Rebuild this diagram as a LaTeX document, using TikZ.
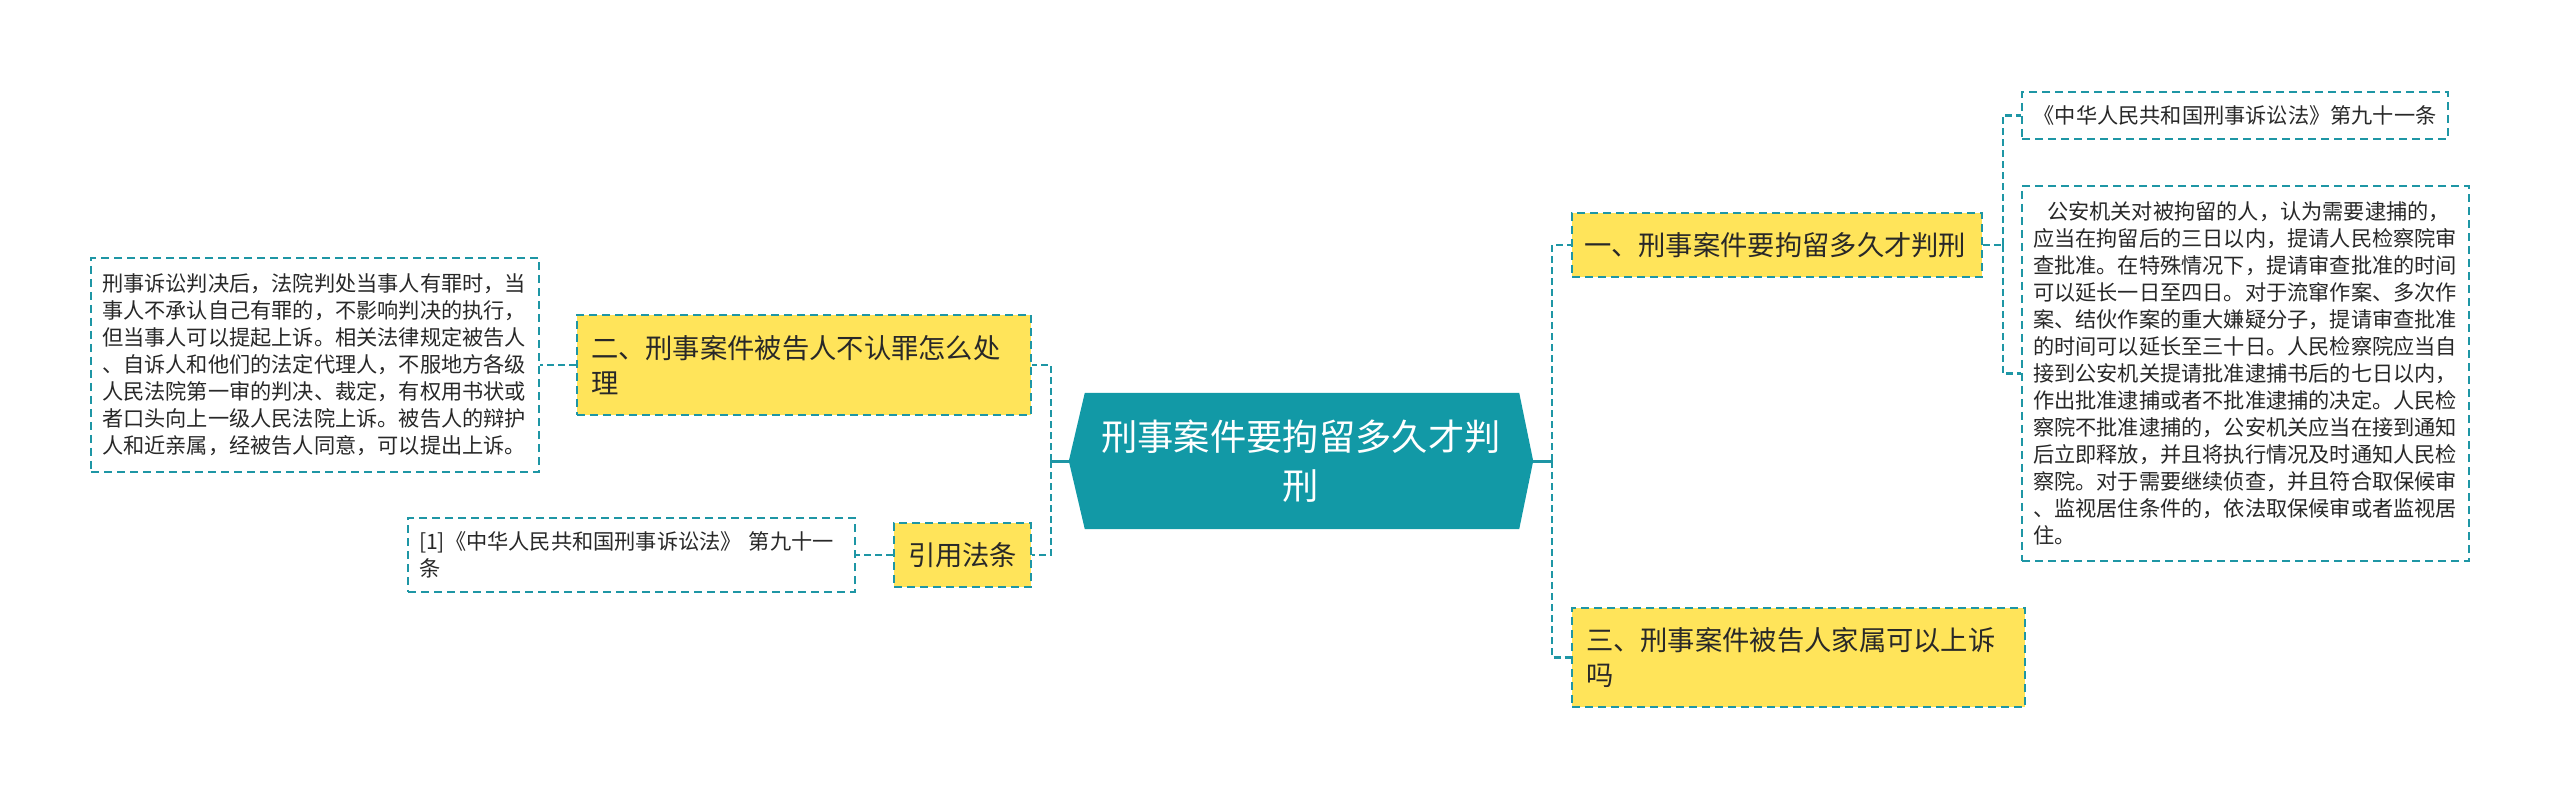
\documentclass[tikz,border=0pt]{standalone}
\usepackage{fontspec}
\setmainfont{Noto Sans CJK SC}
\usetikzlibrary{backgrounds}
\definecolor{hexfill}{RGB}{18,153,166}
\definecolor{linec}{RGB}{30,150,165}
\definecolor{yel}{RGB}{255,228,90}
\definecolor{txt}{RGB}{40,40,40}
\begin{document}
\begin{tikzpicture}[x=1pt,y=-1pt,
  conn/.style={draw=linec,line width=2.2pt,dash pattern=on 7pt off 4pt},
  stub/.style={draw=linec,line width=3pt},
  wbox/.style={draw=linec,line width=1.8pt,dash pattern=on 8pt off 5pt,fill=white,text=txt,
    font=\fontsize{21.2}{27}\selectfont,align=left,inner ysep=0pt,inner xsep=11pt},
  ybox/.style={draw=linec,line width=1.8pt,dash pattern=on 8pt off 5pt,fill=yel,text=txt,
    font=\fontsize{27.3}{35}\selectfont,align=left,inner ysep=0pt,inner xsep=14pt},
]
\useasboundingbox (0,0) rectangle (2560,799);

% root
\node[text=white,font=\fontsize{36.3}{49}\selectfont,align=center,
  minimum width=464pt,minimum height=136pt,inner sep=0pt] (root) at (1301,461)
  {刑事案件要拘留多久才判\\刑};

% left side
\node[ybox,text width=426pt,minimum height=100pt] (er) at (804,365)
  {二、刑事案件被告人不认罪怎么处\\理};
\node[wbox,text width=426pt,minimum height=214pt] (left) at (315,365)
  {刑事诉讼判决后，法院判处当事人有罪时，当\\
   事人不承认自己有罪的，不影响判决的执行，\\
   但当事人可以提起上诉。相关法律规定被告人\\
   、自诉人和他们的法定代理人，不服地方各级\\
   人民法院第一审的判决、裁定，有权用书状或\\
   者口头向上一级人民法院上诉。被告人的辩护\\
   人和近亲属，经被告人同意，可以提出上诉。};
\node[ybox,align=center,text width=109pt,minimum height=64pt] (cite) at (962.5,555) {引用法条};
\node[wbox,text width=425pt,minimum height=74pt] (ref1) at (631.5,555)
  {[1]《中华人民共和国刑事诉讼法》 第九十一\\条};

% right side
\node[ybox,inner xsep=12pt,text width=386pt,minimum height=64pt] (yi) at (1777,245)
  {一、刑事案件要拘留多久才判刑};
\node[ybox,text width=425pt,minimum height=99pt] (san) at (1798.5,657.5)
  {三、刑事案件被告人家属可以上诉\\吗};
\node[wbox,align=center,text width=404pt,minimum height=47pt] (law) at (2235,115.5)
  {《中华人民共和国刑事诉讼法》第九十一条};
\node[wbox,text width=425pt,minimum height=375pt] (big) at (2245.5,373.5)
  {\hspace*{14pt}公安机关对被拘留的人，认为需要逮捕的，\\
   应当在拘留后的三日以内，提请人民检察院审\\
   查批准。在特殊情况下，提请审查批准的时间\\
   可以延长一日至四日。对于流窜作案、多次作\\
   案、结伙作案的重大嫌疑分子，提请审查批准\\
   的时间可以延长至三十日。人民检察院应当自\\
   接到公安机关提请批准逮捕书后的七日以内，\\
   作出批准逮捕或者不批准逮捕的决定。人民检\\
   察院不批准逮捕的，公安机关应当在接到通知\\
   后立即释放，并且将执行情况及时通知人民检\\
   察院。对于需要继续侦查，并且符合取保候审\\
   、监视居住条件的，依法取保候审或者监视居\\
   住。};

\begin{scope}[on background layer]
  \fill[white] (0,0) rectangle (2560,799);
  \fill[hexfill] (root.west) -- ([xshift=16pt]root.north west) -- ([xshift=-14pt]root.north east)
    -- (root.east) -- ([xshift=-14pt]root.south east) -- ([xshift=16pt]root.south west) -- cycle;
\end{scope}

% connectors
\draw[stub] (root.west) -- ++(-18,0) coordinate (jl);
\draw[conn] (jl) |- (er.east);
\draw[conn] (jl) |- (cite.east);
\draw[conn] (er.west) -- (left.east);
\draw[conn] (cite.west) -- (ref1.east);
\draw[stub] (root.east) -- ++(19,0) coordinate (jr);
\draw[conn] (jr) |- (yi.west);
\draw[conn] (jr) |- (san.west);
\draw[conn] (yi.east) -- ++(20,0) coordinate (jy);
\draw[conn] (jy) |- (law.west);
\draw[conn] (jy) |- (big.west);
\end{tikzpicture}
\end{document}
